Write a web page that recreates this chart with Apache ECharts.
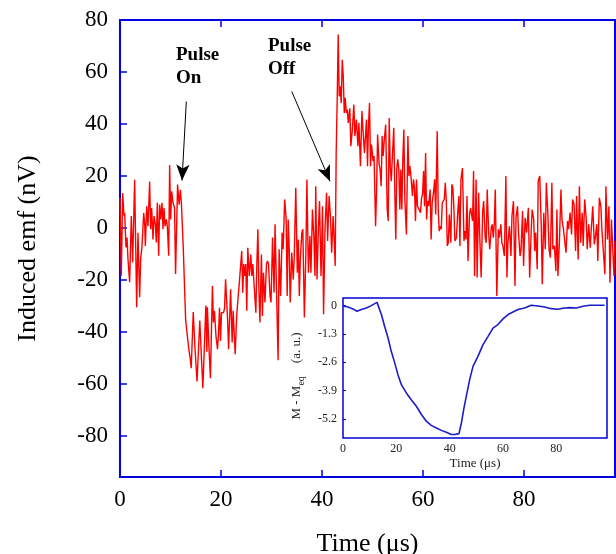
<!DOCTYPE html>
<html>
<head>
<meta charset="utf-8">
<script src="https://cdn.jsdelivr.net/npm/echarts@6/dist/echarts.min.js"></script>
<style>
html,body{margin:0;padding:0;background:#fff;}
#chart{width:616px;height:554px;}
</style>
</head>
<body>
<div id="chart"></div>
<script>
// ---- Main trace: induced emf (nV) vs time (µs) ----
const emfTimes = [
0.0,0.26,0.53,0.79,0.92,1.19,1.39,1.58,1.91,2.24,2.51,2.90,3.30,3.56,3.89,4.09,4.36,4.69,4.88,5.02,
5.28,5.54,5.87,6.07,6.27,6.53,6.73,7.0,7.19,7.39,7.66,7.85,8.05,8.32,8.51,8.71,8.91,9.17,9.37,9.64,
9.83,10.03,10.23,10.5,10.8,11.0,11.4,11.7,11.95,12.15,12.5,12.7,13.0,13.5,13.7,13.9,14.1,14.5,14.85,15.25,
15.8,16.1,16.4,17.0,17.2,
17.3,17.6,17.9,18.3,18.5,18.7,19.0,19.3,19.5,19.7,19.9,20.1,20.5,20.7,20.9,21.3,21.5,21.9,22.2,22.4,
22.8,23.1,23.4,23.6,23.9,24.1,24.3,24.5,24.7,24.9,25.1,25.3,25.6,25.9,26.1,26.3,26.6,26.9,27.1,27.3,
27.5,27.7,28.0,28.2,28.4,28.7,29.0,29.2,29.4,29.7,29.9,30.2,30.5,30.7,31.0,31.3,31.5,31.8,32.1,
32.3,32.6,32.9,33.1,33.3,33.5,33.7,34.0,34.3,34.5,34.8,35.1,35.3,35.5,35.7,36.0,36.2,36.5,36.8,37.0,
37.3,37.6,37.8,38.1,38.4,38.6,38.75,39.0,39.3,39.5,39.8,40.1,40.3,40.6,40.9,41.1,41.4,41.7,41.9,42.2,
42.4,42.6,42.8,43.0,43.2,43.4,43.6,43.8,44.0,44.2,44.4,44.6,44.8,45.0,45.2,45.5,45.7,46.0,46.3,46.5,
46.8,47.1,47.3,47.6,47.9,48.1,48.4,
48.8,49.0,49.2,49.4,49.6,49.8,50.1,50.3,50.6,50.8,51.0,51.3,51.5,51.7,51.9,52.1,52.3,52.6,52.9,53.1,
53.3,53.5,53.7,53.9,54.2,54.4,54.6,54.8,55.0,55.2,55.4,55.6,55.8,56.0,56.2,56.4,56.7,57.0,57.2,57.4,
57.6,57.9,58.1,58.3,58.5,58.7,58.9,59.2,59.5,59.7,59.9,60.1,60.3,60.5,60.7,60.9,61.1,61.4,61.6,61.8,
62.1,62.3,62.5,62.8,63.0,63.2,63.4,63.6,63.8,64.0,64.2,
64.4,64.6,64.8,65.0,65.2,65.5,65.7,65.9,66.1,66.3,66.6,66.9,67.1,67.3,67.5,67.8,68.1,68.3,68.5,68.7,
68.9,69.2,69.4,69.6,69.8,70.0,70.2,70.5,70.7,71.0,71.2,71.5,71.8,72.0,72.3,72.5,72.7,73.0,73.2,73.5,
73.7,73.9,74.1,74.3,74.6,74.9,75.1,75.4,75.6,75.8,76.1,76.4,76.6,76.8,77.1,77.4,77.6,77.9,78.2,78.4,
78.7,78.9,79.2,79.4,79.7,79.9,80.2,80.5,
80.85,81.1,81.4,81.6,81.9,82.1,82.3,82.6,82.8,83.1,83.4,83.6,83.9,84.2,84.4,84.7,84.95,85.2,85.5,85.7,
86.0,86.3,86.5,86.7,87.0,87.3,87.5,87.8,88.05,88.3,88.6,88.8,89.1,89.4,89.6,89.9,90.2,90.4,90.7,90.95,
91.2,91.5,91.7,92.0,92.3,92.5,92.8,93.1,93.3,93.6,93.9,94.1,94.4,94.6,94.9,95.2,95.4,95.7,96.0,96.2,
96.5,96.8,97.0,97.3,97.55,97.8,98.0
];
const emfValues = [
11.5,-18.5,13.4,4.5,5.7,-7.6,-3.8,-12.1,-21,4.5,-13.4,18.5,-30.6,-1.9,-26.8,-12.1,-7,5.7,1.9,-7,
8.3,0.6,17.8,-0.6,7.6,-4.5,4.5,1.3,-5.7,9.6,-10.8,8.9,3.2,9.6,-0.6,7.6,0.6,3.2,0.6,-10.8,
24.2,3.2,14,9.6,7.6,-17.8,16.6,8.9,14.6,9.6,-6.4,-7,-35.7,-44.6,-47.8,-50.3,-54.1,-32.5,-46.5,-59.2,
-35.7,-49,-61.8,-30,-47.8,
-30.6,-45.5,-58,-22.4,-36.5,-32,-41.7,-46.8,-41,-30.8,-43.6,-32.7,-32.7,-31,-19.9,-35.3,-46.8,-23.7,-44.2,-32,
-48.7,-34,-26.3,-21.8,-21.8,-9,-25,-14,-18.6,-14,-32,-7.7,-18.6,-10.3,-18.6,-14,-23.7,-32.7,-13.5,-0.6,
-23.7,-36.5,-10.3,-34,-17.3,-28.8,-14,-12.8,-14,-26.3,-28.8,-3.8,-25,1.3,1.3,-51,-8.3,-26.3,-1.9,
-8.3,10.9,3.2,-26.3,3.2,-8.3,-28.8,-9.6,-19.9,-10.9,15.4,-17.3,-4.5,-26.3,-12.2,-1.9,-0.6,-34.6,-9.6,18.6,
-17.3,-3.2,-17.3,7,-4.5,-18.6,16,-19.9,0.6,10.3,-18.6,8.3,-33.3,0.6,13.5,-5.1,12.2,3.2,-9.6,4.5,
-4.5,-14.7,28.8,49.4,74.4,50.6,54.5,48,64.7,58.3,44.2,50,44.2,45.5,40.4,46,31.4,37.8,47.4,35.3,
41.7,31.4,40.4,23.7,44.9,37.8,28.8,
41.7,23.7,39.7,48,23.7,32,25.6,27.6,0.6,14.7,35.9,24.4,22.4,16,35.3,27.6,33.3,39.7,7,2.6,
42.3,23.7,17.9,26.3,38.5,14.7,-4.5,23,26.3,22.4,7,22.4,7,27,37.8,10.9,-2.6,35.3,19.9,23.7,
19.9,12.2,18.6,15.4,2.6,18.6,8.3,7.7,5.8,11.5,12.8,21.8,8.3,28.8,3.2,10.3,8.3,14.7,-4.5,9.6,
14.1,18.6,5.1,37.2,7,-1.3,0.6,-0.6,9.6,10.3,10.9,
17.3,10.3,-7,-5.8,5.1,-5.8,16.7,15.4,7.7,-5.1,-3.8,7,12.2,-7,18.6,23,-5.1,-1.3,-4.5,12.2,
-12.8,5.1,7.7,5.1,2.6,21.8,-18.6,18.6,-19.2,13.5,-1.9,-19.2,6.4,10.3,-3.8,-5.8,14.7,-2.6,-8.3,0,
1.3,-3.8,1.3,14.7,-26.3,-0.6,-3.8,1.3,-5.8,-7,-10.9,19.9,-19.2,-5.8,0.6,-10.9,4.5,10.3,-22.4,3.8,
8.3,-1.9,-10.9,-8.3,6.4,-14.7,3.8,-1.9,
7.7,-19.2,-1.9,7,3.2,-9,-1.9,-16,18,19.9,0.6,-21.8,5.8,-8.3,17.3,5.8,-8.3,-11.5,17.3,-8.3,
-7,-16.7,7,-18.6,-5.1,14.7,3.2,-0.6,-1.3,-9.6,2.6,-0.6,5.8,-2.6,10.9,9,-9,12.2,-12.2,16,
-5.8,5.8,-7,10.9,3.2,-8.3,1.3,-7.7,-0.6,8.3,-6.4,-3.8,1.3,-12.8,11.5,8.3,-0.6,0,-17.9,16,
-4.5,8.3,-21.2,3.2,3.2,-18.6,-5
];
const mainXTicks = [0, 20, 40, 60, 80];
const mainYTicks = [-80, -60, -40, -20, 0, 20, 40, 60, 80];

// ---- Inset: M - M_eq (a. u.) vs time (µs) ----
const magTimes = [0.25,1.9,3.75,5.25,6.9,8.75,10.6,11.9,12.75,13.4,14.4,15.6,16.9,18.1,19.4,20.6,21.9,23.75,25.6,27.5,
29.4,31.25,33.1,35,36.9,38.75,40.6,41.9,43.5,44.4,45.25,46.25,47.5,48.75,50.6,52.5,54.4,56.25,58.1,60,
61.9,63.75,65.6,68.1,70.6,73.1,75.6,78.1,80.6,82.5,85,87.5,90,92.5,95,98.1];
const magValues = [-0.03,-0.06,-0.15,-0.26,-0.18,-0.11,0,0.09,0.15,0.09,-0.41,-0.95,-1.49,-2.1,-2.63,-3.17,-3.63,-4.01,-4.32,-4.62,
-5.0,-5.31,-5.5,-5.62,-5.73,-5.82,-5.92,-5.92,-5.88,-5.39,-4.78,-4.16,-3.40,-2.79,-2.33,-1.79,-1.41,-1.03,-0.87,-0.61,
-0.41,-0.29,-0.18,-0.11,0.02,-0.02,-0.06,-0.14,-0.17,-0.12,-0.09,-0.11,-0.03,0.02,0.02,0.02];
const insetXTicks = [0, 20, 40, 60, 80];
const insetYTicks = [0, -1.3, -2.6, -3.9, -5.2];

const BLUE = '#0000e0';
const SERIF = '"Liberation Serif", "Times New Roman", serif';

const chart = echarts.init(document.getElementById('chart'), null, {renderer: 'canvas'});
const option = {
  animation: false,
  backgroundColor: '#fff',
  grid: [
    {left: 120, top: 20, width: 495, height: 457, show: true, borderColor: BLUE, borderWidth: 2,
     backgroundColor: 'transparent', outerBoundsMode: 'none', containLabel: false},
    {left: 343, top: 298, width: 264, height: 140, show: true, borderColor: BLUE, borderWidth: 1.5,
     backgroundColor: '#fff', z: 5, outerBoundsMode: 'none', containLabel: false}
  ],
  xAxis: [
    {
      type: 'value', gridIndex: 0, min: 0, max: 98, position: 'bottom',
      axisLine: {show: false, onZero: false},
      axisTick: {inside: true, length: 7, lineStyle: {color: BLUE, width: 1.5}, customValues: mainXTicks},
      axisLabel: {fontFamily: SERIF, fontSize: 23, color: '#000', margin: 11, customValues: mainXTicks},
      splitLine: {show: false},
      name: 'Time (\u03bcs)', nameLocation: 'middle', nameGap: 54,
      nameTextStyle: {fontFamily: SERIF, fontSize: 26, color: '#000'}
    },
    {
      type: 'value', gridIndex: 0, min: 0, max: 98, position: 'top',
      axisLine: {show: false, onZero: false},
      axisTick: {inside: true, length: 7, lineStyle: {color: BLUE, width: 1.5}, customValues: mainXTicks},
      axisLabel: {show: false},
      splitLine: {show: false}
    },
    {
      type: 'value', gridIndex: 1, min: 0, max: 99, position: 'bottom', z: 6,
      axisLine: {show: false, onZero: false},
      axisTick: {show: false},
      axisLabel: {fontFamily: SERIF, fontSize: 12, color: '#222', margin: 5, customValues: insetXTicks},
      splitLine: {show: false},
      name: 'Time (\u03bcs)', nameLocation: 'middle', nameGap: 19,
      nameTextStyle: {fontFamily: SERIF, fontSize: 13, color: '#222'}
    }
  ],
  yAxis: [
    {
      type: 'value', gridIndex: 0, min: -96, max: 80,
      axisLine: {show: false, onZero: false},
      axisTick: {inside: true, length: 7, lineStyle: {color: BLUE, width: 1.5}, customValues: mainYTicks},
      axisLabel: {fontFamily: SERIF, fontSize: 23, color: '#000', margin: 12, customValues: mainYTicks},
      splitLine: {show: false},
      name: 'Induced emf (nV)', nameLocation: 'middle', nameGap: 79, nameRotate: 90,
      nameTextStyle: {fontFamily: SERIF, fontSize: 26, color: '#000'}
    },
    {
      type: 'value', gridIndex: 1, min: -6.08, max: 0.35, z: 6,
      axisLine: {show: false, onZero: false},
      axisTick: {inside: true, length: 3, lineStyle: {color: BLUE, width: 1}, customValues: insetYTicks},
      axisLabel: {fontFamily: SERIF, fontSize: 12, color: '#222', margin: 6, customValues: insetYTicks},
      splitLine: {show: false},
      name: 'M - M{sub|eq}    (a. u.){sp| }', nameLocation: 'middle', nameGap: 37, nameRotate: 90,
      nameTextStyle: {
        fontFamily: SERIF, fontSize: 13, color: '#222', lineHeight: 18,
        rich: {
          sub: {fontFamily: SERIF, fontSize: 10, color: '#222', lineHeight: 10, verticalAlign: 'bottom'},
          sp: {width: 16, fontSize: 13}
        }
      }
    }
  ],
  series: [
    {
      type: 'line', xAxisIndex: 0, yAxisIndex: 0,
      data: emfTimes.map((t, i) => [t, emfValues[i]]),
      showSymbol: false, symbol: 'none',
      lineStyle: {color: '#ff0000', width: 1.4},
      z: 2,
      markLine: {
        silent: true, animation: false,
        symbol: ['none', 'arrow'], symbolSize: [10, 16],
        lineStyle: {color: '#000', width: 1, type: 'solid'},
        label: {show: false},
        data: [
          [{coord: [13.13, 48.6]}, {coord: [12.28, 18.2]}],
          [{coord: [34.0, 52.5]}, {coord: [41.58, 17.9]}]
        ]
      }
    },
    {
      type: 'line', xAxisIndex: 2, yAxisIndex: 1,
      data: magTimes.map((t, i) => [t, magValues[i]]),
      showSymbol: false, symbol: 'none',
      lineStyle: {color: '#1c1cc8', width: 1.6},
      z: 10
    }
  ],
  graphic: [
    {type: 'text', left: 176, top: 44, z: 20,
     style: {text: 'Pulse\nOn', font: 'bold 19px ' + SERIF, lineHeight: 23, fill: '#000'}},
    {type: 'text', left: 268, top: 35, z: 20,
     style: {text: 'Pulse\nOff', font: 'bold 19px ' + SERIF, lineHeight: 23, fill: '#000'}}
  ]
};
chart.setOption(option);
</script>
</body>
</html>
